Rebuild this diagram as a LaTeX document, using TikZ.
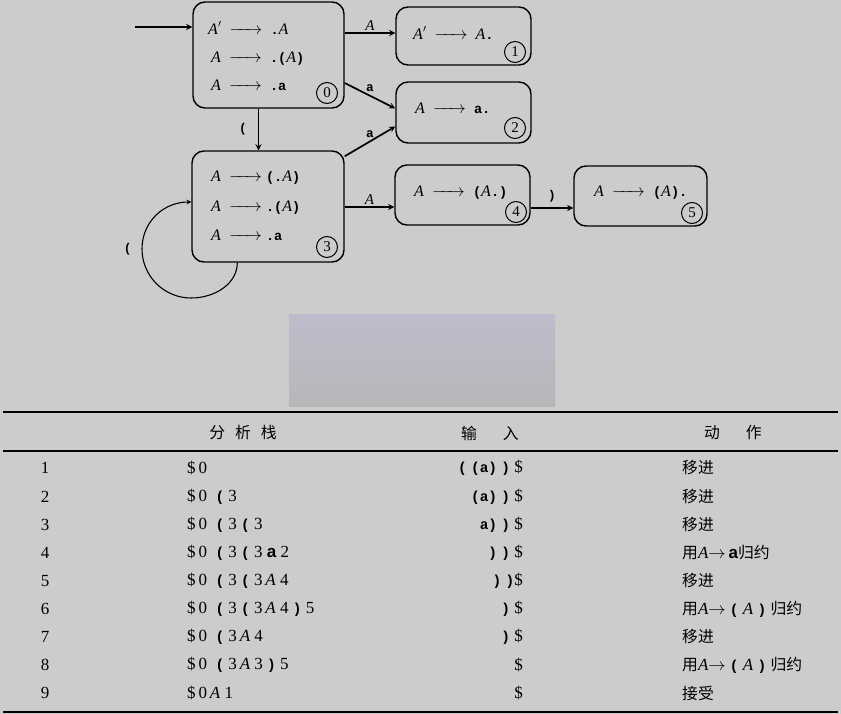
\documentclass[tikz,border=0pt]{standalone}
\usepackage{fontspec}
\setmainfont{Liberation Serif}
\setsansfont{Liberation Sans}
\newfontfamily\tokfont{Liberation Mono}[Scale=0.85]
\newfontfamily\cjk{Noto Sans CJK SC}[Scale=0.93]
\definecolor{paper}{RGB}{204,204,204}
\newcommand{\tok}[1]{{\tokfont\bfseries #1}}
\newcommand{\zh}[1]{{\cjk #1}}
\newcommand{\yields}{\hbox to 33pt{\rightarrowfill}}

\begin{document}
\begin{tikzpicture}[
    x=1pt, y=-1pt,
    edge/.style={->, >=stealth, line width=1.7pt},
    loopedge/.style={->, >=stealth, line width=1.1pt},
    state/.style={rectangle, draw, line width=1.4pt, rounded corners=12pt, inner sep=0pt},
    item/.style={anchor=west, inner sep=0pt, font=\fontsize{16}{18}\selectfont},
    num/.style={circle, draw, line width=1pt, minimum size=21pt, inner sep=0pt, font=\fontsize{15}{15}\selectfont},
    elabel/.style={font=\fontsize{15}{15}\selectfont, inner sep=2pt},
    cell/.style={inner sep=0pt, font=\fontsize{17}{19}\selectfont}
]

\fill[paper] (0,0) rectangle (841,714);
\useasboundingbox (0,0) rectangle (841,714);

% States
\node[state, minimum width=151pt, minimum height=106pt] (s0) at (268.5, 55) {};
\node[state, minimum width=135pt, minimum height=58pt] (s1) at (463.5, 36) {};
\node[state, minimum width=135pt, minimum height=61pt] (s2) at (463.5, 112.5) {};
\node[state, minimum width=152pt, minimum height=111pt] (s3) at (268, 206.5) {};
\node[state, minimum width=135pt, minimum height=60pt] (s4) at (462.5, 195) {};
\node[state, minimum width=133pt, minimum height=60pt] (s5) at (640.5, 196) {};

% Items of each state
\node[item] (i01) at (208, 28) {\textit{A}$'$\enspace\yields\enspace\tok{.}\textit{A}};
\node[item] (i02) at (211, 59) {\textit{A}\enspace\yields\enspace\tok{.(}\textit{A}\tok{)}};
\node[item] (i03) at (211, 85) {\textit{A}\enspace\yields\enspace\tok{.a}};
\node[num] (n0) at (327, 93) {0};

\node[item] (i11) at (413, 33) {\textit{A}$'$\enspace\yields\enspace\textit{A}\tok{.}};
\node[num] (n1) at (515, 52) {1};

\node[item] (i21) at (415, 108) {\textit{A}\enspace\yields\enspace\tok{a.}};
\node[num] (n2) at (515, 128) {2};

\node[item] (i31) at (211, 178) {\textit{A}\enspace\yields\ \tok{(.}\textit{A}\tok{)}};
\node[item] (i32) at (211, 208) {\textit{A}\enspace\yields\ \tok{.(}\textit{A}\tok{)}};
\node[item] (i33) at (211, 235) {\textit{A}\enspace\yields\ \tok{.a}};
\node[num] (n3) at (327, 247) {3};

\node[item] (i41) at (414, 193) {\textit{A}\enspace\yields\enspace\tok{(}\textit{A}\tok{.)}};
\node[num] (n4) at (516, 212) {4};

\node[item] (i51) at (594, 193) {\textit{A}\enspace\yields\enspace\tok{(}\textit{A}\tok{).}};
\node[num] (n5) at (692, 213) {5};

% Transitions
\coordinate (init) at (135, 27);
\draw[edge] (init) -- (init -| s0.west);
\draw[edge] ([yshift=3pt]s0.east |- s1.west) -- ([yshift=3pt]s1.west)
    node[elabel, midway, above] {\textit{A}};
\draw[edge] ([yshift=-28pt]s0.east) -- ([yshift=4pt]s2.west)
    node[elabel, midway, above=1pt] {\tok{a}};
\draw[edge] ([yshift=-6pt]s3.north east) -- ([yshift=-14pt]s2.west)
    node[elabel, midway, above=1pt] {\tok{a}};
\draw[edge] ([xshift=-10pt]s0.south) -- ([xshift=-10pt]s0.south |- s3.north)
    node[elabel, midway, left=9pt] {\tok{(}};
\draw[edge] ([yshift=-12pt]s4.west -| s3.east) -- ([yshift=-12pt]s4.west)
    node[elabel, midway, above] {\textit{A}};
\draw[edge] ([yshift=-13pt]s4.east) -- ([yshift=-13pt]s4.east -| s5.west)
    node[elabel, midway, above=3pt] {\tok{)}};

% Loop on state 3
\draw[loopedge] ([xshift=46pt]s3.south west) .. controls +(0,21) and +(24,0) .. (191, 298)
    .. controls +(-27,0) and +(0,27) .. (142, 249) node[elabel, left=8pt] {\tok{(}}
    .. controls +(0,-27) and +(-28,0) .. ([yshift=4.5pt]s3.west);

% Blurred caption
\shade[top color={rgb,255:red,188;green,188;blue,204}, bottom color={rgb,255:red,183;green,183;blue,185}]
    (289, 314) rectangle (555, 406);

% Table rules
\draw[line width=2.2pt] (3, 412) -- (838, 412);
\draw[line width=1.3pt] (3, 451) -- (838, 451);
\draw[line width=2.2pt] (3, 712) -- (838, 712);

% Header
\node[cell] (h1) at (243, 433) {\zh{分\hspace{10pt}析\hspace{10pt}栈}};
\node[cell] (h2) at (490, 433) {\zh{输\hspace{26pt}入}};
\node[cell] (h3) at (733, 433) {\zh{动\hspace{26pt}作}};

% Rows
\node[cell] (r1) at (45, 468) {1};
\node[cell, anchor=west] (k1) at (187, 468) {\$\,0};
\node[cell, anchor=east] (w1) at (523, 468) {\tok{(}\ \tok{(a)}\ \tok{)}\ \$};
\node[cell, anchor=west] (a1) at (682, 468) {\zh{移进}};

\node[cell] (r2) at (45, 497) {2};
\node[cell, anchor=west] (k2) at (187, 497) {\$\,0\ \ \tok{(}\ 3};
\node[cell, anchor=east] (w2) at (523, 497) {\tok{(a)}\ \tok{)}\ \$};
\node[cell, anchor=west] (a2) at (682, 497) {\zh{移进}};

\node[cell] (r3) at (45, 525) {3};
\node[cell, anchor=west] (k3) at (187, 525) {\$\,0\ \ \tok{(}\ 3\ \tok{(}\ 3};
\node[cell, anchor=east] (w3) at (523, 525) {\tok{a)}\ \tok{)}\ \$};
\node[cell, anchor=west] (a3) at (682, 525) {\zh{移进}};

\node[cell] (r4) at (45, 553) {4};
\node[cell, anchor=west] (k4) at (187, 553) {\$\,0\ \ \tok{(}\ 3\ \tok{(}\ 3\ \textsf{\textbf{a}}\ 2};
\node[cell, anchor=east] (w4) at (523, 553) {\tok{)}\ \tok{)}\ \$};
\node[cell, anchor=west] (a4) at (682, 553) {\zh{用}\textit{A}$\rightarrow$\,\textsf{\textbf{a}}\zh{归约}};

\node[cell] (r5) at (45, 581) {5};
\node[cell, anchor=west] (k5) at (187, 581) {\$\,0\ \ \tok{(}\ 3\ \tok{(}\ 3\,\textit{A}\ 4};
\node[cell, anchor=east] (w5) at (523, 581) {\tok{)}\ \tok{)}\$};
\node[cell, anchor=west] (a5) at (682, 581) {\zh{移进}};

\node[cell] (r6) at (45, 609) {6};
\node[cell, anchor=west] (k6) at (187, 609) {\$\,0\ \ \tok{(}\ 3\ \tok{(}\ 3\,\textit{A}\ 4\ \tok{)}\ 5};
\node[cell, anchor=east] (w6) at (523, 609) {\tok{)}\ \$};
\node[cell, anchor=west] (a6) at (682, 609) {\zh{用}\textit{A}$\rightarrow$\ \tok{(}\ \textit{A}\ \tok{)}\ \zh{归约}};

\node[cell] (r7) at (45, 637) {7};
\node[cell, anchor=west] (k7) at (187, 637) {\$\,0\ \ \tok{(}\ 3\,\textit{A}\ 4};
\node[cell, anchor=east] (w7) at (523, 637) {\tok{)}\ \$};
\node[cell, anchor=west] (a7) at (682, 637) {\zh{移进}};

\node[cell] (r8) at (45, 665) {8};
\node[cell, anchor=west] (k8) at (187, 665) {\$\,0\ \ \tok{(}\ 3\,\textit{A}\ 3\ \tok{)}\ 5};
\node[cell, anchor=east] (w8) at (523, 665) {\$};
\node[cell, anchor=west] (a8) at (682, 665) {\zh{用}\textit{A}$\rightarrow$\ \tok{(}\ \textit{A}\ \tok{)}\ \zh{归约}};

\node[cell] (r9) at (45, 693) {9};
\node[cell, anchor=west] (k9) at (187, 693) {\$\,0\,\textit{A}\ 1};
\node[cell, anchor=east] (w9) at (523, 693) {\$};
\node[cell, anchor=west] (a9) at (682, 693) {\zh{接受}};

\end{tikzpicture}
\end{document}
